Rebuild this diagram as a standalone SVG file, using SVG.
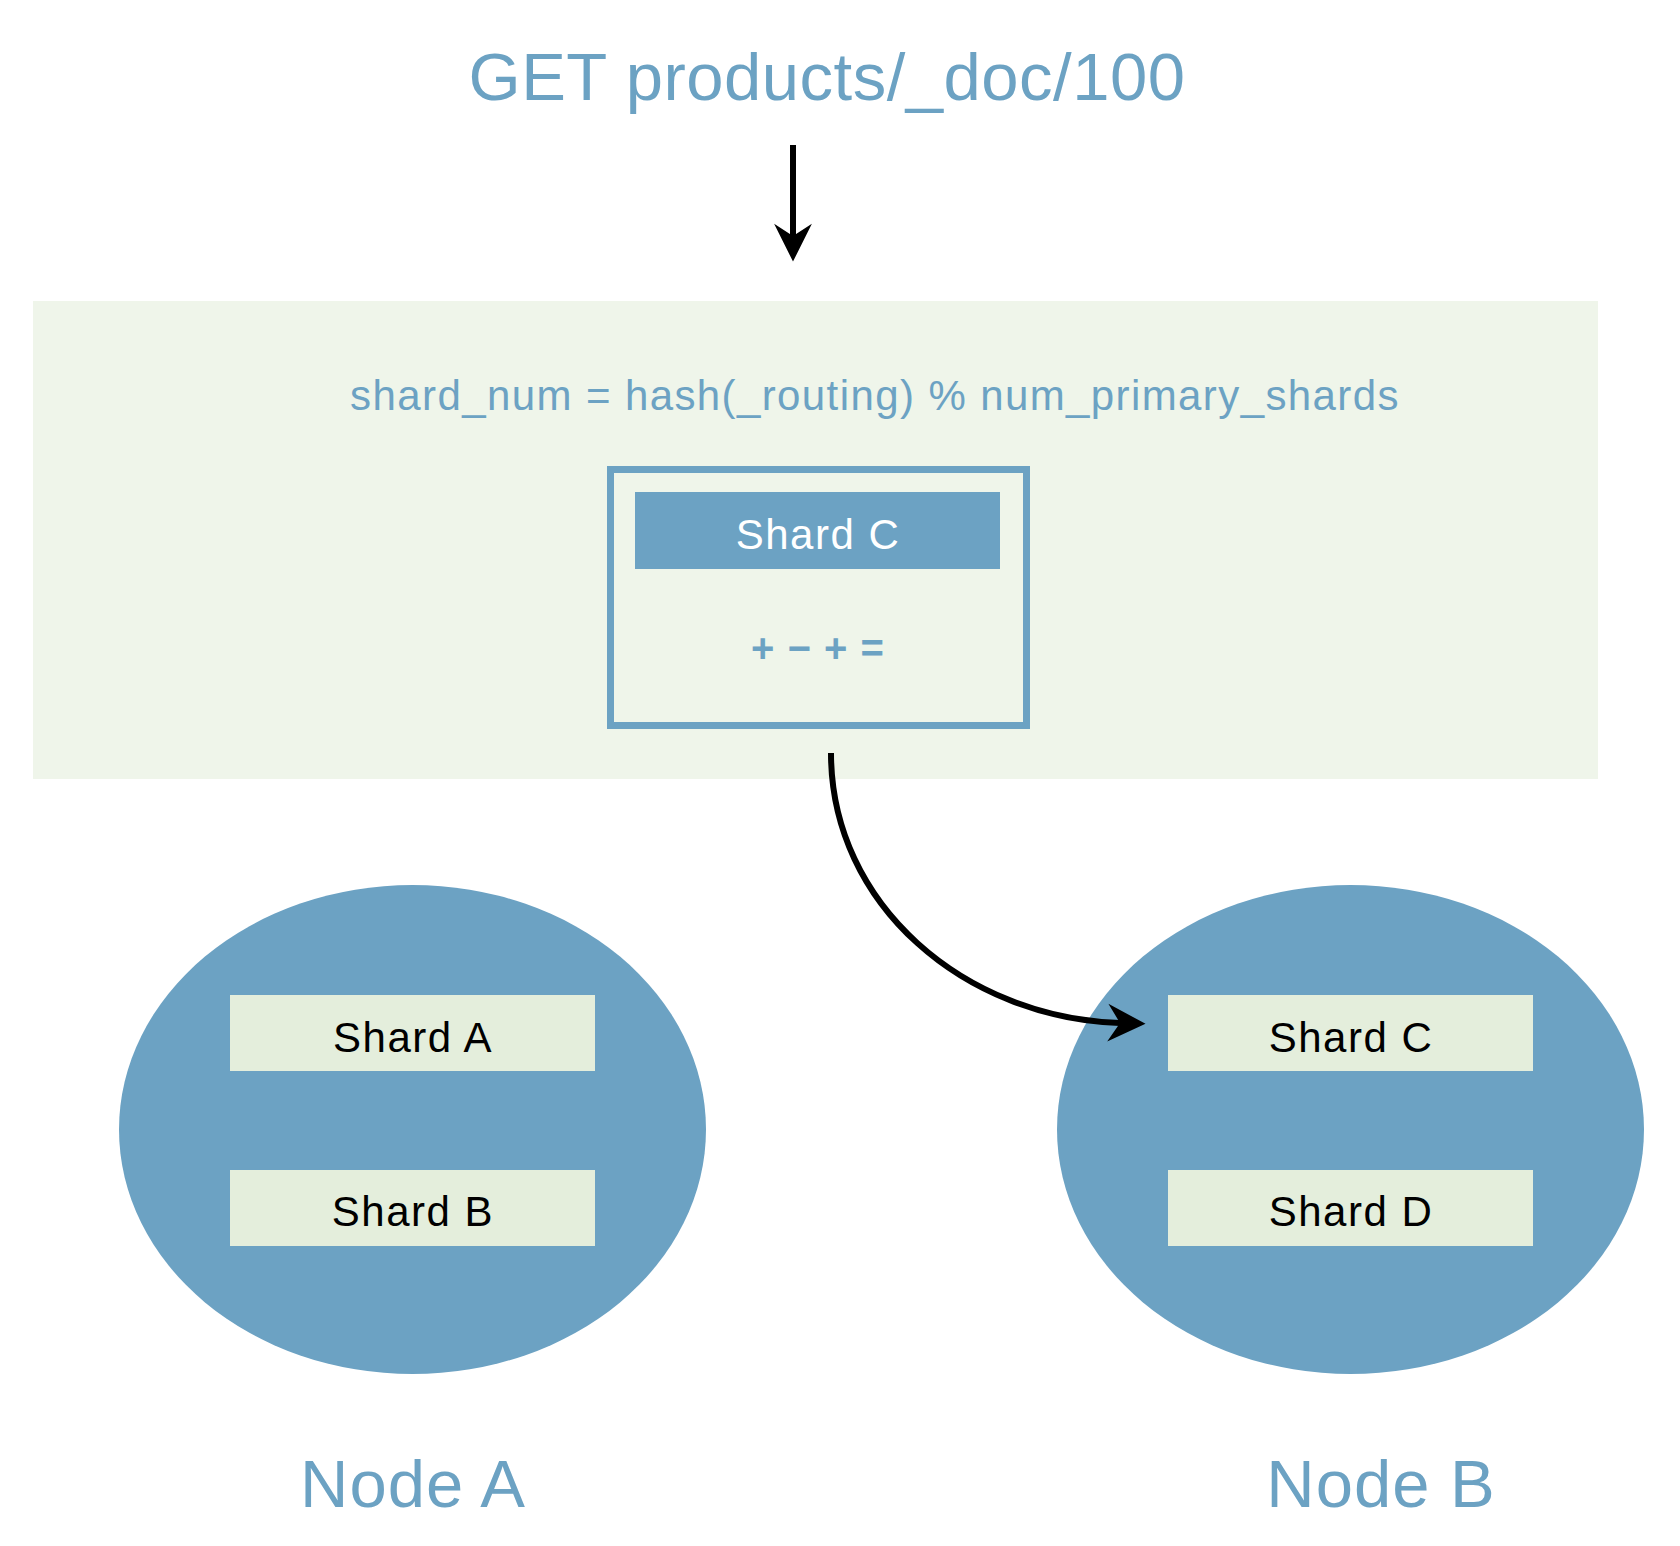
<svg xmlns="http://www.w3.org/2000/svg" width="1680" height="1546" viewBox="0 0 1680 1546">
<style>
  text { font-family: "Liberation Sans", Arial, sans-serif; text-anchor: middle; }
  .blue { fill: #6ca2c3; }
  .title { font-size: 67px; letter-spacing: 0.5px; }
  .formula { font-size: 42px; letter-spacing: 1.4px; }
  .shard { font-size: 42px; letter-spacing: 1.5px; fill: #000; }
  .hdr { font-size: 42px; letter-spacing: 1.5px; fill: #fff; }
  .ops { font-size: 40px; font-weight: bold; letter-spacing: 1px; }
  .nodelabel { font-size: 67px; letter-spacing: 1px; }
  .ellipse { fill: #6ca2c3; }
  .shardbox { fill: #e4eedc; }
  .conn { fill: none; stroke: #000; stroke-width: 6; }
</style>
<defs>
  <marker id="arrow" markerUnits="userSpaceOnUse" markerWidth="40" markerHeight="40" viewBox="-12 -18 36 36" refX="0" refY="0" orient="auto">
    <path d="M23 0 L-11 -17 L0 0 L-11 17 Z" fill="#000"/>
  </marker>
</defs>
<rect width="1680" height="1546" fill="#fff"/>

<g id="request">
  <text class="title blue" x="827" y="100">GET products/_doc/100</text>
</g>

<g id="routing-panel">
  <rect x="33" y="301" width="1565" height="478" fill="#eff5ea"/>
  <text class="formula blue" x="875" y="410">shard_num = hash(_routing) % num_primary_shards</text>
</g>

<g id="target-shard">
  <rect x="610.5" y="469.5" width="416" height="256" fill="none" stroke="#6ca2c3" stroke-width="7"/>
  <rect x="635" y="492" width="365" height="77" fill="#6ca2c3"/>
  <text class="hdr" x="818" y="549">Shard C</text>
  <text class="ops blue" x="818" y="662">+ − + =</text>
</g>

<g id="node-a">
  <ellipse class="ellipse" cx="412.5" cy="1129.5" rx="293.5" ry="244.5"/>
  <rect class="shardbox" x="230" y="995" width="365" height="76"/>
  <text class="shard" x="413" y="1052">Shard A</text>
  <rect class="shardbox" x="230" y="1170" width="365" height="76"/>
  <text class="shard" x="413" y="1226">Shard B</text>
  <text class="nodelabel blue" x="413" y="1507">Node A</text>
</g>

<g id="node-b">
  <ellipse class="ellipse" cx="1350.5" cy="1129.5" rx="293.5" ry="244.5"/>
  <rect class="shardbox" x="1168" y="995" width="365" height="76"/>
  <text class="shard" x="1351" y="1052">Shard C</text>
  <rect class="shardbox" x="1168" y="1170" width="365" height="76"/>
  <text class="shard" x="1351" y="1226">Shard D</text>
  <text class="nodelabel blue" x="1381" y="1507">Node B</text>
</g>

<g id="connectors">
  <path class="conn" d="M793 145 L793 236" marker-end="url(#arrow)"/>
  <path class="conn" d="M831 753 C831 905 965 1018 1120 1023" marker-end="url(#arrow)"/>
</g>
</svg>
